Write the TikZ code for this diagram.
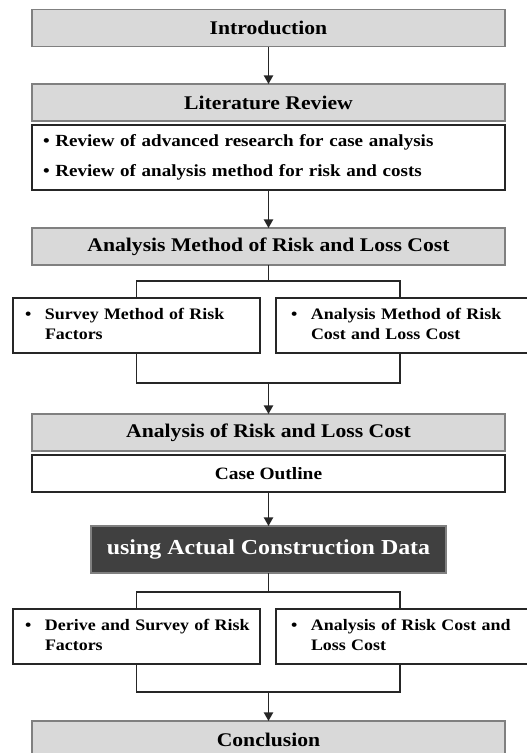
\documentclass[tikz,border=0pt]{standalone}
\usepackage{fontspec}
\setmainfont{Liberation Serif}[FakeStretch=1.12]
\usepackage{tikz}
\usetikzlibrary{arrows.meta, calc}
\definecolor{mygray}{RGB}{217, 217, 217}
\definecolor{myframe}{RGB}{128, 128, 128}
\definecolor{mydark}{RGB}{64, 64, 64}
\tikzstyle{graybox} = [draw=myframe, fill=mygray, outer sep=0, inner sep=0,
    minimum width=354.75pt, minimum height=27.75pt, line width=1.1pt,
    font=\fontsize{14.5}{16}\selectfont\bfseries, align=center]
\tikzstyle{whitebox} = [draw=black!85, fill=white, outer sep=0, inner sep=0,
    minimum width=354.75pt, minimum height=27.75pt, line width=0.9pt,
    font=\fontsize{13}{15}\selectfont\bfseries, align=center]
\tikzstyle{darkbox} = [draw=gray, fill=mydark, text=white, outer sep=0, inner sep=0,
    minimum width=266.25pt, minimum height=35.25pt, line width=0.8pt,
    font=\fontsize{16}{18}\selectfont\bfseries]
\tikzstyle{sidebox} = [draw=black!85, fill=white, outer sep=0, inner ysep=0,
    minimum height=41.25pt, line width=0.9pt, align=left,
    font=\fontsize{12}{15}\selectfont\bfseries]
\tikzstyle{link} = [draw=black!85, line width=1pt]
\tikzstyle{tip} = [-{Triangle[width=7pt, length=6.5pt]}]
\newcommand{\bul}[2]{\begin{tabular}{@{}p{15pt}@{}l@{}}\textbullet & #1\\ & #2\end{tabular}}

\begin{document}
\begin{tikzpicture}[x=0.75pt, y=-0.75pt]

\clip (0,0) rectangle (527,753);
\useasboundingbox (0,0) rectangle (527,753);



\node[graybox] (intro) at (268.5,28) {Introduction};

\node[graybox] (lit) at (268.5,102.5) {Literature Review};
\node[whitebox, minimum height=48.75pt, text width=338.25pt, align=left,
    font=\fontsize{12.75}{22.5}\selectfont\bfseries] (litbody) at (268.5,157.5)
    {\textbullet\ Review of advanced research for case analysis\\
     \textbullet\ Review of analysis method for risk and costs};

\node[graybox] (amethod) at (268.5,246.5) {Analysis Method of Risk and Loss Cost};


%%% method boxes
\node[sidebox, inner xsep=9pt, text width=167.25pt] (surv) at (136.5,325.5)
    {\bul{Survey Method of Risk}{Factors}};
\node[sidebox, inner xsep=11.25pt, text width=175.5pt] (acost) at (408,325.5)
    {\bul{Analysis Method of Risk}{Cost and Loss Cost}};


\node[graybox] (arl) at (268.5,432.5) {Analysis of Risk and Loss Cost};
\node[whitebox] (case) at (268.5,473.5) {Case Outline};

\node[darkbox] (data) at (268.5,549.5) {using Actual Construction Data};


%%% case boxes
\node[sidebox, inner xsep=9pt, text width=167.25pt] (deriv) at (136.5,636.5)
    {\bul{Derive and Survey of Risk}{Factors}};
\node[sidebox, inner xsep=11.25pt, text width=175.5pt] (arc) at (408,636.5)
    {\bul{Analysis of Risk Cost and}{Loss Cost}};

\node[graybox] (concl) at (268.5,739.5) {Conclusion};


%%% junctions
\coordinate (j1) at (268.5,281);
\coordinate (j1r) at (400,298);
\coordinate (j2) at (268.5,383);
\coordinate (j2r) at (400,353);
\coordinate (j3) at (268.5,592);
\coordinate (j3r) at (400,609);
\coordinate (j4) at (268.5,692);
\coordinate (j4r) at (400,664);


\draw[link, tip] (intro) -- (lit);
\draw[link, tip] (litbody) -- (amethod);
\draw[link] (amethod) -- (j1);
\draw[link] (surv.north) |- (j1) -| (j1r);
\draw[link] (surv.south) |- (j2) -| (j2r);
\draw[link, tip] (j2) -- (arl);
\draw[link, tip] (case) -- (data);
\draw[link] (data) -- (j3);
\draw[link] (deriv.north) |- (j3) -| (j3r);
\draw[link] (deriv.south) |- (j4) -| (j4r);
\draw[link, tip] (j4) -- (concl);



\end{tikzpicture}
\end{document}
